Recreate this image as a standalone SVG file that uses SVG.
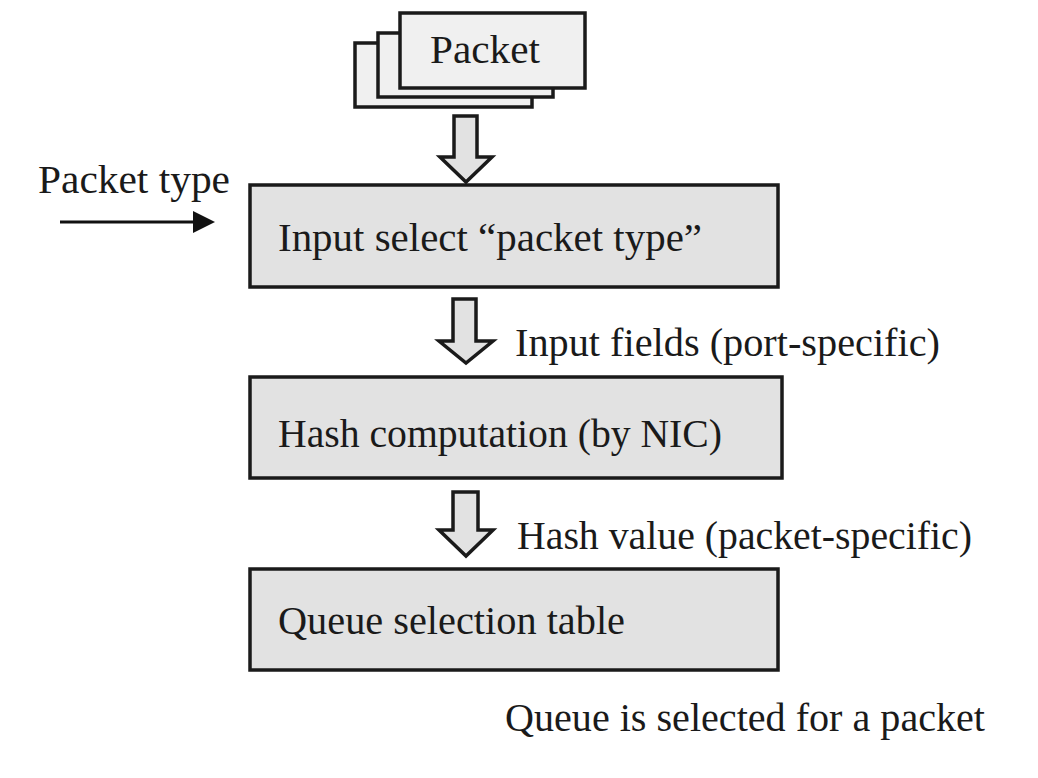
<svg xmlns="http://www.w3.org/2000/svg" width="1038" height="778" viewBox="0 0 1038 778">
<style>
.box{fill:#e2e2e2;stroke:#1a1a1a;stroke-width:3.5}
.pk{fill:#f0f0f0;stroke:#1a1a1a;stroke-width:3.5}
.ha{fill:#e2e2e2;stroke:#1a1a1a;stroke-width:3.5;stroke-linejoin:miter}
text{font-family:"Liberation Serif","DejaVu Serif",serif;font-size:40px;fill:#1a1a1a}
</style>
<rect width="1038" height="778" fill="#fff"/>
<g id="packet">
<rect class="pk" x="355" y="43" width="177" height="64"/>
<rect class="pk" x="378" y="33" width="175" height="64"/>
<rect class="pk" x="400" y="13" width="185" height="75"/>
<text x="430" y="63" textLength="110" lengthAdjust="spacingAndGlyphs">Packet</text>
</g>
<g id="input-select">
<rect class="box" x="250" y="185" width="528" height="102"/>
<text x="278" y="251" textLength="424" lengthAdjust="spacingAndGlyphs">Input select “packet type”</text>
</g>
<g id="hash-computation">
<rect class="box" x="250" y="377" width="532" height="101"/>
<text x="278" y="447" textLength="444" lengthAdjust="spacingAndGlyphs">Hash computation (by NIC)</text>
</g>
<g id="queue-selection">
<rect class="box" x="250" y="569" width="528" height="101"/>
<text x="278" y="634" textLength="347" lengthAdjust="spacingAndGlyphs">Queue selection table</text>
</g>
<g id="packet-type-label">
<text x="38" y="193" textLength="192" lengthAdjust="spacingAndGlyphs">Packet type</text>
</g>
<g id="result-label">
<text x="505" y="731" textLength="480" lengthAdjust="spacingAndGlyphs">Queue is selected for a packet</text>
</g>
<g id="connectors">
<path class="ha" d="M454,116 H477 V157 H492 L466,182 L440,157 H454 Z"/>
<path class="ha" d="M453,299 H476 V341 H493 L466,363 L439,341 H453 Z"/>
<path class="ha" d="M453,492 H478 V530 H493 L466,556 L439,530 H453 Z"/>
<line x1="60" y1="222" x2="200" y2="222" stroke="#111" stroke-width="3"/>
<path d="M193,211 L215,222 L193,233 Z" fill="#111"/>
<text x="515" y="356" textLength="425" lengthAdjust="spacingAndGlyphs">Input fields (port-specific)</text>
<text x="517" y="549" textLength="455" lengthAdjust="spacingAndGlyphs">Hash value (packet-specific)</text>
</g>
</svg>
